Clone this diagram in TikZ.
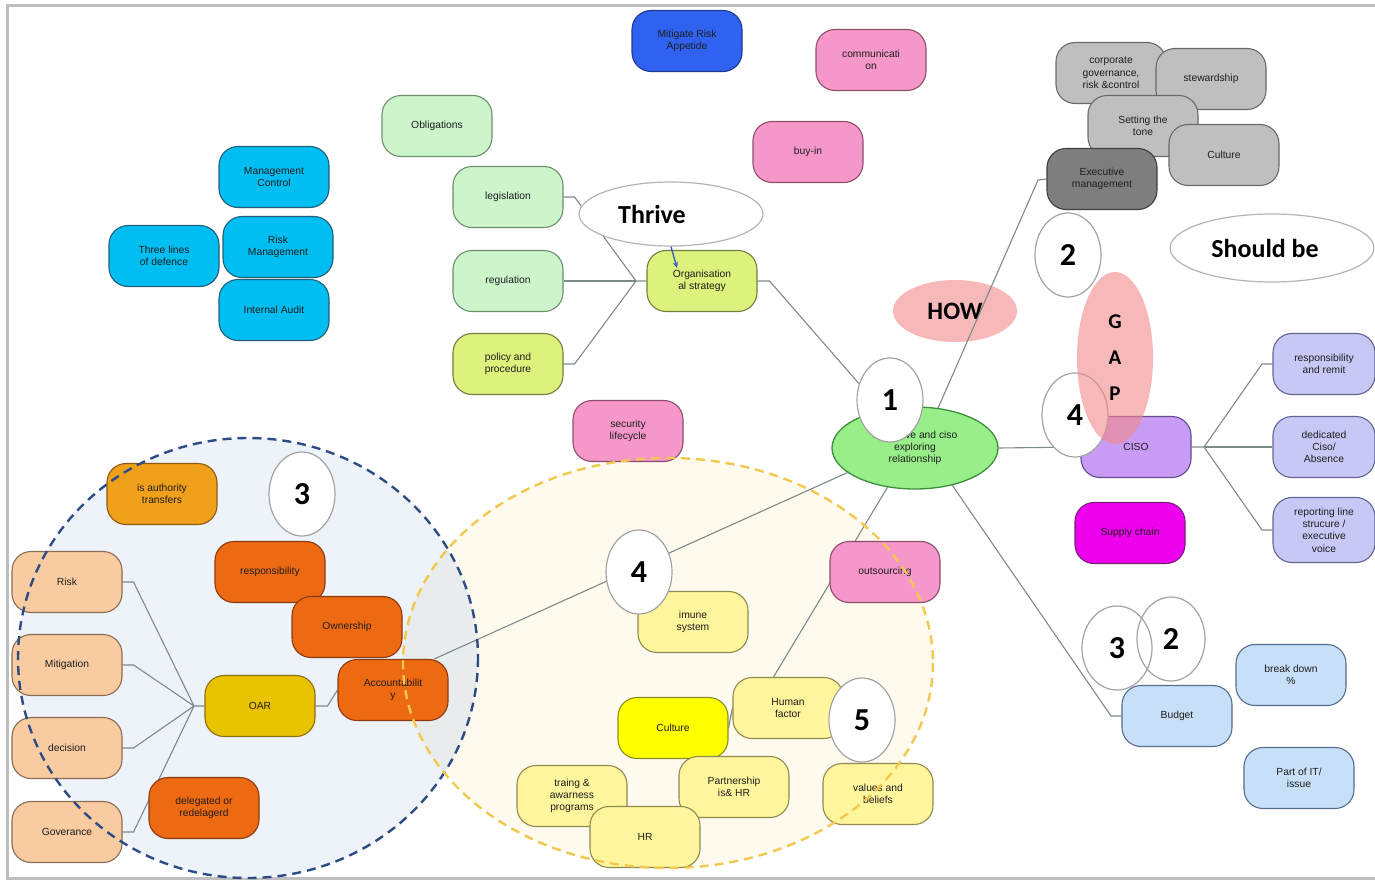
\documentclass[tikz,border=0pt]{standalone}
\usepackage{fontspec}
\setmainfont{Liberation Sans}
\newfontfamily\headfont{Carlito}
\usetikzlibrary{shapes.geometric,arrows.meta}

% palette
\definecolor{cyanF}{HTML}{00BDF2}   \definecolor{cyanD}{HTML}{1F5F78}
\definecolor{mintF}{HTML}{CCF5CC}   \definecolor{mintD}{HTML}{6E8E6E}
\definecolor{limeF}{HTML}{DCF27C}   \definecolor{limeD}{HTML}{6F8040}
\definecolor{pinkF}{HTML}{F597C8}   \definecolor{pinkD}{HTML}{8C4E6E}
\definecolor{royalF}{HTML}{2F62F0}  \definecolor{royalD}{HTML}{1E3A8C}
\definecolor{greyF}{HTML}{BFBFBF}   \definecolor{greyD}{HTML}{6A6A6A}
\definecolor{slateF}{HTML}{7E7E7E}  \definecolor{slateD}{HTML}{3F3F3F}
\definecolor{violetF}{HTML}{C89CF4} \definecolor{violetD}{HTML}{654A8E}
\definecolor{lavF}{HTML}{C8C8F6}    \definecolor{lavD}{HTML}{646490}
\definecolor{magF}{HTML}{EE00EE}    \definecolor{magD}{HTML}{7A1F7A}
\definecolor{skyF}{HTML}{C7DFF7}    \definecolor{skyD}{HTML}{566E8C}
\definecolor{amberF}{HTML}{F0A01A}  \definecolor{amberD}{HTML}{8C5A14}
\definecolor{rustF}{HTML}{EE6A12}   \definecolor{rustD}{HTML}{8A3A12}
\definecolor{goldF}{HTML}{E9C300}   \definecolor{goldD}{HTML}{8A7212}
\definecolor{peachF}{HTML}{F8CBA1}  \definecolor{peachD}{HTML}{8A6C52}
\definecolor{creamF}{HTML}{FFF59C}  \definecolor{creamD}{HTML}{8E8A50}
\definecolor{yellowF}{HTML}{FFFF00} \definecolor{yellowD}{HTML}{8E8E24}
\definecolor{centreF}{HTML}{98EE88} \definecolor{centreD}{HTML}{3E8E3E}
\definecolor{zoneAF}{HTML}{EEF2F9}  \definecolor{zoneAD}{HTML}{2E4C84}
\definecolor{zoneBF}{HTML}{FEFAEE}  \definecolor{zoneBD}{HTML}{F2C84E}
\definecolor{overlapF}{HTML}{E9ECEC}
\definecolor{linkc}{HTML}{7D8A8A}
\definecolor{numline}{HTML}{A3A3A3}
\definecolor{howpink}{HTML}{F6B8B8}
\definecolor{gapF}{HTML}{F08A8A}
\definecolor{arrowblue}{HTML}{3556C8}
\definecolor{framec}{HTML}{BEBEBE}
\definecolor{labeltext}{HTML}{1E1E1E}

\pgfdeclarelayer{background}
\pgfsetlayers{background,main}

\tikzset{
  box/.style={rectangle, rounded corners=19pt, minimum width=110pt, minimum height=61pt,
    align=center, inner sep=1pt, line width=1.1pt, text=labeltext,
    font=\fontsize{10.3}{12.3}\selectfont},
  cyanbox/.style={box, fill=cyanF, draw=cyanD},
  mintbox/.style={box, fill=mintF, draw=mintD},
  limebox/.style={box, fill=limeF, draw=limeD},
  pinkbox/.style={box, fill=pinkF, draw=pinkD},
  royalbox/.style={box, fill=royalF, draw=royalD},
  greybox/.style={box, fill=greyF, draw=greyD},
  slatebox/.style={box, fill=slateF, draw=slateD},
  violetbox/.style={box, fill=violetF, draw=violetD},
  lavbox/.style={box, fill=lavF, draw=lavD, minimum width=102pt},
  magbox/.style={box, fill=magF, draw=magD},
  skybox/.style={box, fill=skyF, draw=skyD},
  amberbox/.style={box, fill=amberF, draw=amberD},
  rustbox/.style={box, fill=rustF, draw=rustD},
  goldbox/.style={box, fill=goldF, draw=goldD},
  peachbox/.style={box, fill=peachF, draw=peachD},
  creambox/.style={box, fill=creamF, draw=creamD},
  yellowbox/.style={box, fill=yellowF, draw=yellowD},
  num/.style={ellipse, draw=numline, line width=1.2pt, fill=white, minimum width=66pt,
    minimum height=84pt, inner sep=0pt, text=black,
    font=\headfont\bfseries\fontsize{32}{32}\selectfont},
  numopen/.style={num, fill=none},
  tag/.style={ellipse, draw=numline!80, line width=1.2pt, fill=white, inner sep=0pt,
    text=black, font=\headfont\bfseries\fontsize{26}{26}\selectfont},
  link/.style={draw=linkc, line width=1.1pt},
  zoneline/.style={line width=2.4pt, dash pattern=on 9pt off 6pt}
}

\begin{document}
\begin{tikzpicture}[x=1pt,y=-1pt]
\useasboundingbox (0,0) rectangle (1375,880);

% junction points of the elbow connectors
\coordinate (jorg)   at (636,281);
\coordinate (jexec)  at (1038,180);
\coordinate (jciso)  at (1204,447);
\coordinate (sresp)  at (1262,364);
\coordinate (srep)   at (1262,530);
\coordinate (jbud)   at (1111,716);
\coordinate (joar)   at (194,706);
\coordinate (orgtip) at (677,268);

\begin{pgfonlayer}{background}
  \fill[white] (0,0) rectangle (1375,880);
  \draw[framec, line width=3pt] (1375,6) -- (7,6) -- (7,878) -- (1375,878);
  % the two grouping zones
  \fill[zoneAF] (248,658) ellipse [x radius=230, y radius=220];
  \fill[zoneBF] (668,663) ellipse [x radius=265, y radius=205];
  \begin{scope}
    \clip (248,658) ellipse [x radius=230, y radius=220];
    \fill[overlapF] (668,663) ellipse [x radius=265, y radius=205];
  \end{scope}
  \node[ellipse, fill=howpink, minimum width=124pt, minimum height=62pt, inner sep=0pt,
        text=black, font=\headfont\bfseries\fontsize{25}{25}\selectfont] (how) at (955,311) {HOW};
\end{pgfonlayer}

% three lines of defence
\node[cyanbox] (mgmt)  at (274,177) {Management\\Control};
\node[cyanbox] (riskm) at (278,247) {Risk\\Management};
\node[cyanbox] (three) at (164,256) {Three lines\\of defence};
\node[cyanbox] (audit) at (274,310) {Internal Audit};

% strategy branch
\node[mintbox] (oblig)  at (437,126) {Obligations};
\node[mintbox] (legis)  at (508,197) {legislation};
\node[mintbox] (regul)  at (508,281) {regulation};
\node[limebox] (policy) at (508,364) {policy and\\procedure};
\node[limebox] (org)    at (702,281) {Organisation\\al strategy};

% loose top items
\node[royalbox] (appetite) at (687,41)  {Mitigate Risk\\Appetide};
\node[pinkbox]  (comm)     at (871,60)  {communicati\\on};
\node[pinkbox]  (buyin)    at (808,152) {buy-in};
\node[pinkbox]  (seclife)  at (628,431) {security\\lifecycle};

% executive management cluster
\node[greybox]  (corp)     at (1111,73)  {corporate\\governance,\\risk \&control};
\node[greybox]  (steward)  at (1211,79)  {stewardship};
\node[greybox]  (tone)     at (1143,126) {Setting the\\tone};
\node[greybox]  (culture1) at (1224,155) {Culture};
\node[slatebox] (exec)     at (1102,179) {Executive\\management};

% CISO branch
\node[violetbox] (ciso)   at (1136,447) {CISO};
\node[lavbox]    (resp)   at (1324,364) {responsibility\\and remit};
\node[lavbox]    (dedic)  at (1324,447) {dedicated\\Ciso/\\Absence};
\node[lavbox, minimum height=65pt] (report) at (1324,530) {reporting line\\strucure /\\executive\\voice};
\node[magbox]    (supply) at (1130,533) {Supply chain};

% budget branch
\node[skybox] (budget) at (1177,716) {Budget};
\node[skybox] (brk)    at (1291,675) {break down\\\%};
\node[skybox] (partit) at (1299,778) {Part of IT/\\issue};

% centre
\node[ellipse, fill=centreF, draw=centreD, line width=1.3pt, minimum width=166pt,
      minimum height=82pt, inner sep=0pt, align=center, text=labeltext,
      font=\fontsize{10.3}{12}\selectfont] (centre) at (915,448)
      {executive and ciso\\exploring\\relationship};

% accountability cluster
\node[amberbox]  (authority) at (162,494) {is authority\\transfers};
\node[rustbox]   (respo)     at (270,572) {responsibility};
\node[rustbox]   (owner)     at (347,627) {Ownership};
\node[rustbox]   (acct)      at (393,690) {Accountabilit\\y};
\node[goldbox]   (oar)       at (260,706) {OAR};
\node[rustbox]   (deleg)     at (204,808) {delegated or\\redelagerd};
\node[peachbox]  (risk)      at (67,582)  {Risk};
\node[peachbox]  (mitig)     at (67,665)  {Mitigation};
\node[peachbox]  (decis)     at (67,748)  {decision};
\node[peachbox]  (gover)     at (67,832)  {Goverance};

% human factor cluster
\node[pinkbox]   (outs)     at (885,572) {outsourcing};
\node[creambox]  (immune)   at (693,622) {imune\\system};
\node[creambox]  (human)    at (788,708) {Human\\factor};
\node[yellowbox] (culture2) at (673,728) {Culture};
\node[creambox]  (training) at (572,796) {traing \&\\awarness\\programs};
\node[creambox]  (partner)  at (734,787) {Partnership\\is\& HR};
\node[creambox]  (hr)       at (645,837) {HR};
\node[creambox]  (values)   at (878,794) {values and\\beliefs};

% connectors, kept behind the boxes
\begin{pgfonlayer}{background}
  \draw[link] (legis.east) -- ++(11,0) -- (jorg) -- (org.west);
  \draw[link] (regul.east) -- (jorg);
  \draw[link] (policy.east) -- ++(11,0) -- (jorg);
  \draw[link] (org.east) -- ++(12,0) -- (centre);
  \draw[link] (centre.60) -- (jexec) -- (exec.west);
  \draw[link] (centre.east) -- (ciso.west);
  \draw[link] (ciso.east) -- (jciso) -- (sresp) -- (resp.west);
  \draw[link] (jciso) -- (dedic.west);
  \draw[link] (jciso) -- (srep) -- (report.west);
  \draw[link] (centre.-45) -- (jbud) -- (budget.west);
  \draw[link] (centre.-125) -- (human.115);
  \draw[link] (culture2.east) -- (human.west);
  \draw[link] (acct.37) -- (centre.200);
  \draw[link] (oar.east) -- ++(12,0) -- (acct.west);
  \draw[link] (risk.east) -- ++(11,0) -- (joar) -- (oar.west);
  \draw[link] (mitig.east) -- ++(11,0) -- (joar);
  \draw[link] (decis.east) -- ++(11,0) -- (joar);
  \draw[link] (gover.east) -- ++(11,0) -- (joar);
\end{pgfonlayer}

% labels in ellipses
\node[tag, minimum width=184pt, minimum height=64pt] (thrive) at (671,214) {\hspace*{-38pt}Thrive};
\draw[-{Stealth[length=6pt,width=5pt]}, arrowblue, line width=1.3pt] (thrive.south) -- (orgtip);
\node[tag, minimum width=204pt, minimum height=68pt] (should) at (1272,248) {\hspace*{-14pt}Should be};

% zone outlines
\draw[zoneline, zoneAD] (248,658) ellipse [x radius=230, y radius=220];
\draw[zoneline, zoneBD] (668,663) ellipse [x radius=265, y radius=205];

% numbered markers
\node[num] (n1)  at (890,400)  {1};
\node[num] (n2a) at (1068,255) {2};
\node[num] (n4a) at (1075,415) {4};
\node[num] (n4b) at (639,572)  {4};
\node[num] (n5)  at (862,720)  {5};
\node[num] (n3a) at (302,494)  {3};
\node[numopen, minimum width=70pt] (n3b) at (1117,648) {3};
\node[numopen, minimum width=68pt] (n2b) at (1171,639) {2};

% gap marker
\node[ellipse, fill=gapF, fill opacity=0.6, text opacity=1, minimum width=76pt,
      minimum height=172pt, inner sep=0pt, align=center, text=black,
      font=\headfont\bfseries\fontsize{21}{36}\selectfont] (gap) at (1115,358) {G\\A\\P};
\end{tikzpicture}
\end{document}
